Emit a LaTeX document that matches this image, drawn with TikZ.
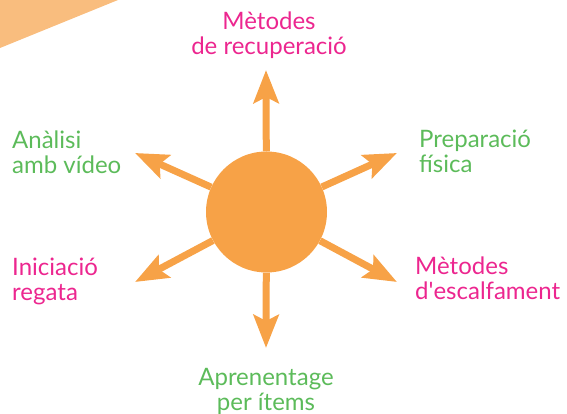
\documentclass[tikz,border=0pt]{standalone}
\usepackage{fontspec}
\setmainfont{Lato}
\usetikzlibrary{arrows.meta}
\definecolor{sunorange}{HTML}{F7A247}
\definecolor{lightorange}{HTML}{F9BD7E}
\definecolor{labelpink}{HTML}{EC268F}
\definecolor{labelgreen}{HTML}{5CBB5A}
\begin{document}
\begin{tikzpicture}[x=1pt,y=1pt,
        ray/.style={line width=7pt,color=sunorange,-{Stealth[length=33pt,width=25pt,inset=6pt]}},
        lbl/.style={inner sep=0pt,font=\fontsize{24}{25}\selectfont}]
        \useasboundingbox (0,0) rectangle (567,414);
        \fill[lightorange] (0,414) -- (118,414) -- (0,366) -- cycle;

        \node [circle,fill=sunorange,inner sep=0pt,minimum size=121pt] (c) at (266.5,202) {};

        \coordinate (up) at (266,344);
        \coordinate (down) at (266,66);
        \coordinate (upleft) at (135,261);
        \coordinate (upright) at (397,261);
        \coordinate (downleft) at (135,132);
        \coordinate (downright) at (397,132);

        \draw[ray] (c) -- (up);
        \draw[ray] (c) -- (down);
        \draw[ray] (c) -- (upleft);
        \draw[ray] (c) -- (upright);
        \draw[ray] (c) -- (downleft);
        \draw[ray] (c) -- (downright);

        \node [lbl,align=center,color=labelpink] (recup) at (269,379) {Mètodes\\de recuperació};
        \node [lbl,align=left,anchor=west,color=labelgreen] (video) at (12,262) {Anàlisi\\amb vídeo};
        \node [lbl,align=left,anchor=west,color=labelgreen] (fisica) at (419,263) {Preparació\\física};
        \node [lbl,align=left,anchor=west,color=labelpink] (regata) at (12,133) {Iniciació\\regata};
        \node [lbl,align=left,anchor=west,color=labelpink] (escalf) at (415,136) {Mètodes\\d\textquotesingle escalfament};
        \node [lbl,align=center,color=labelgreen] (items) at (266,23) {Aprenentage\\per ítems};
\end{tikzpicture}
\end{document}
